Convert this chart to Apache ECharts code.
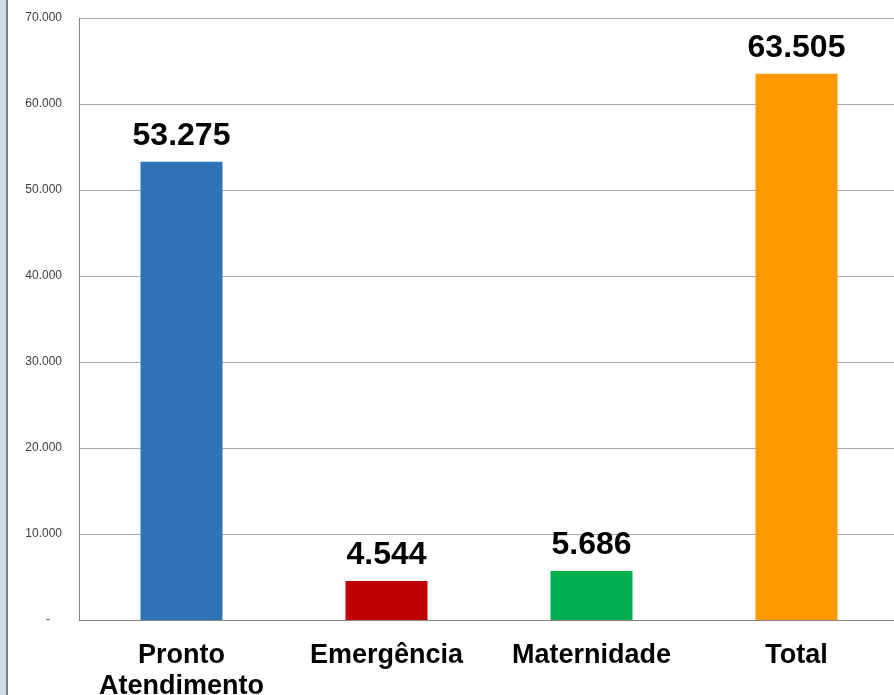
<!DOCTYPE html>
<html><head><meta charset="utf-8">
<script src="https://cdn.jsdelivr.net/npm/echarts@6/dist/echarts.min.js"></script>
<style>html,body{margin:0;padding:0;background:#fff;}#c{width:894px;height:695px;}</style>
</head><body><div id="c"></div>
<script>
const categories = ['Pronto\nAtendimento', 'Emergência', 'Maternidade', 'Total'];
const values = [53275, 4544, 5686, 63505];
const colors = ['#2E75B6', '#C00000', '#00B050', '#FF9900'];
const yTicks = [0, 10000, 20000, 30000, 40000, 50000, 60000, 70000];

function fmt(v) {
  if (v === 0) return '-\u2002\u2002';
  return String(v).replace(/\B(?=(\d{3})+(?!\d))/g, '.');
}

const chart = echarts.init(document.getElementById('c'));
chart.setOption({
  animation: false,
  backgroundColor: '#fff',
  graphic: [
    { type: 'rect', left: 0, top: 0, shape: { width: 6, height: 695 }, style: { fill: '#D3DBEA' }, silent: true },
    { type: 'rect', left: 6, top: 0, shape: { width: 2, height: 695 }, style: { fill: '#7F7F7F' }, silent: true }
  ],
  grid: { left: 79, top: 18, width: 820, height: 602, containLabel: false, outerBoundsMode: 'none' },
  xAxis: {
    type: 'category',
    data: categories,
    axisLine: { show: true, lineStyle: { color: '#868686', width: 1 } },
    axisTick: { show: false },
    axisLabel: {
      interval: 0,
      margin: 20,
      color: '#000',
      fontFamily: 'Liberation Sans, Arial, sans-serif',
      fontWeight: 'bold',
      fontSize: 27,
      lineHeight: 31
    }
  },
  yAxis: {
    type: 'value',
    min: yTicks[0],
    max: yTicks[yTicks.length - 1],
    interval: 10000,
    axisLine: { show: true, lineStyle: { color: '#868686', width: 1 } },
    axisTick: { show: false },
    splitLine: { show: true, lineStyle: { color: '#A6A6A6', width: 1 } },
    axisLabel: {
      formatter: fmt,
      margin: 17,
      color: '#404040',
      fontFamily: 'Liberation Sans, Arial, sans-serif',
      fontSize: 12
    }
  },
  series: [{
    type: 'bar',
    barWidth: '40%',
    data: values.map((v, i) => ({ value: v, itemStyle: { color: colors[i] } })),
    label: {
      show: true,
      position: 'top',
      distance: 10,
      formatter: p => fmt(p.value),
      color: '#000',
      fontFamily: 'Liberation Sans, Arial, sans-serif',
      fontWeight: 'bold',
      fontSize: 32
    }
  }]
});
</script>
</body></html>
